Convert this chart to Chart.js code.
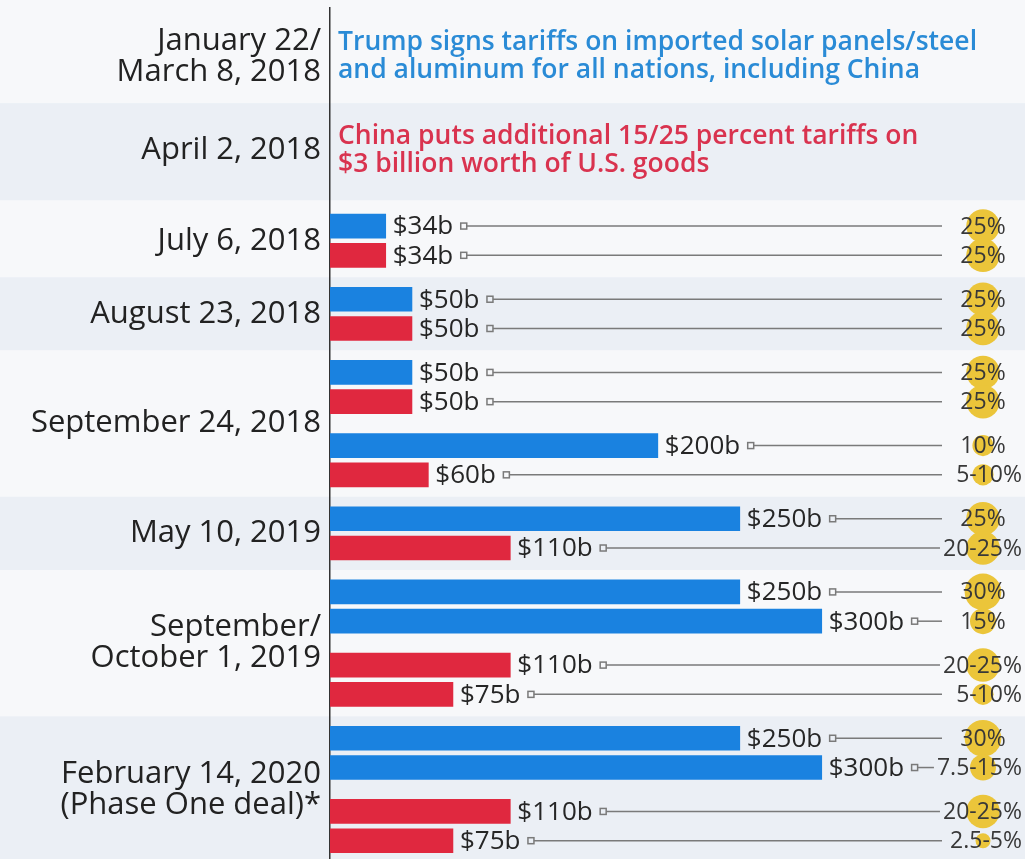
<!DOCTYPE html>
<html>
<head>
<meta charset="utf-8">
<script src="https://cdn.jsdelivr.net/npm/chart.js@4"></script>
<style>
html, body { margin: 0; padding: 0; background: #f7f8fa; }
#wrap { width: 1025px; height: 859px; position: relative; }
</style>
</head>
<body>
<div id="wrap"><canvas id="myChart"></canvas></div>
<script>
// event dates (left column)
const dateLabels = [
    ['January 22/', 'March 8, 2018'],
    ['April 2, 2018'],
    ['July 6, 2018'],
    ['August 23, 2018'],
    ['September 24, 2018'],
    ['May 10, 2019'],
    ['September/', 'October 1, 2019'],
    ['February 14, 2020', '(Phase One deal)*']
];
// text-only events
const notes = [
    ['Trump signs tariffs on imported solar panels/steel', 'and aluminum for all nations, including China'],
    ['China puts additional 15/25 percent tariffs on', '$3 billion worth of U.S. goods']
];
const noteSides = ['US', 'China'];

// one entry per bar
const barDate = [2, 2, 3, 3, 4, 4, 4, 4, 5, 5, 6, 6, 6, 6, 7, 7, 7, 7];
const barSide = ['US', 'China', 'US', 'China', 'US', 'China', 'US', 'China', 'US', 'China',
                 'US', 'US', 'China', 'China', 'US', 'US', 'China', 'China'];
const tariffBillions = [34, 34, 50, 50, 50, 50, 200, 60, 250, 110, 250, 300, 110, 75, 250, 300, 110, 75];
const tariffRates = ['25%', '25%', '25%', '25%', '25%', '25%', '10%', '5-10%', '25%', '20-25%',
                     '30%', '15%', '20-25%', '5-10%', '30%', '7.5-15%', '20-25%', '2.5-5%'];

const sideColor = { US: '#1a82e0', China: '#e0283f' };
const noteColor = { US: '#2a8bd6', China: '#d9334f' };

// bars come in pairs; pairs are spaced a bit wider than bars inside a pair
const barPos = tariffBillions.map((v, i) => Math.floor(i / 2) * 5 + (i % 2) * 2);

// tick position of each date row + band edges
const headerTicks = [-11.6, -5.2];
const headerEdges = [null, -8.4, -1.75];
const tickPos = [];
const bands = [];
dateLabels.forEach((lab, k) => {
    if (k < 2) {
        tickPos.push(headerTicks[k]);
        bands.push({ from: headerEdges[k], to: headerEdges[k + 1] });
        return;
    }
    const ys = barPos.filter((p, i) => barDate[i] === k);
    tickPos.push((ys[0] + ys[ys.length - 1]) / 2);
});
for (let k = 2; k < dateLabels.length; k++) {
    const ys = barPos.filter((p, i) => barDate[i] === k);
    const prev = barPos.filter((p, i) => barDate[i] === k - 1);
    const next = barPos.filter((p, i) => barDate[i] === k + 1);
    bands.push({
        from: prev.length ? (prev[prev.length - 1] + ys[0]) / 2 : headerEdges[2],
        to: next.length ? (ys[ys.length - 1] + next[0]) / 2 : null
    });
}

const backdrop = {
    id: 'backdrop',
    beforeDraw(chart) {
        const { ctx } = chart;
        const y = chart.scales.y;
        ctx.save();
        ctx.fillStyle = '#f7f8fa';
        ctx.fillRect(0, 0, chart.width, chart.height);
        bands.forEach((b, k) => {
            const top = b.from === null ? 0 : y.getPixelForValue(b.from);
            const bot = b.to === null ? chart.height : y.getPixelForValue(b.to);
            ctx.fillStyle = k % 2 ? '#ebeff5' : '#f7f8fa';
            ctx.fillRect(0, top, chart.width, bot - top);
        });
        ctx.restore();
    }
};

const barLabels = {
    id: 'barLabels',
    afterDatasetsDraw(chart) {
        const { ctx, chartArea } = chart;
        const y = chart.scales.y;
        const meta = chart.getDatasetMeta(0);
        const circleX = chartArea.right - 42;
        const lineStop = chartArea.right - 83;
        ctx.save();
        ctx.textBaseline = 'middle';

        // text-only events at the top
        ctx.font = '600 26.5px "Open Sans"';
        ctx.textAlign = 'left';
        notes.forEach((lines, k) => {
            const cy = y.getPixelForValue(headerTicks[k]);
            ctx.fillStyle = noteColor[noteSides[k]];
            lines.forEach((t, j) => ctx.fillText(t, chartArea.left + 8, cy + (j - (lines.length - 1) / 2) * 28));
        });

        // rate bubbles
        meta.data.forEach((bar, i) => {
            const top = Math.max(...tariffRates[i].replace('%', '').split('-').map(Number));
            ctx.beginPath();
            ctx.arc(circleX, bar.y, 3.35 * Math.sqrt(top), 0, Math.PI * 2);
            ctx.fillStyle = '#ebc53a';
            ctx.fill();
        });

        meta.data.forEach((bar, i) => {
            // value label
            ctx.font = '26px "Open Sans"';
            ctx.textAlign = 'left';
            ctx.fillStyle = '#262626';
            const txt = '$' + tariffBillions[i] + 'b';
            const tx = bar.x + 7;
            ctx.fillText(txt, tx, bar.y + 1);
            const sq = tx + ctx.measureText(txt).width + 7;

            // rate text
            ctx.font = '23px "Open Sans"';
            const rate = tariffRates[i];
            let rateLeft;
            ctx.fillStyle = '#383838';
            if (rate.includes('-')) {
                ctx.textAlign = 'right';
                ctx.fillText(rate, chartArea.right - 3, bar.y + 1);
                rateLeft = chartArea.right - 3 - ctx.measureText(rate).width;
            } else {
                ctx.textAlign = 'center';
                ctx.fillText(rate, circleX, bar.y + 1);
                rateLeft = circleX - ctx.measureText(rate).width / 2;
            }

            // connector
            ctx.strokeStyle = '#7a7a7a';
            ctx.lineWidth = 1.5;
            ctx.strokeRect(sq + 0.5, bar.y - 3, 6, 6);
            ctx.beginPath();
            ctx.moveTo(sq + 6.5, bar.y);
            ctx.lineTo(Math.min(lineStop, rateLeft - 3), bar.y);
            ctx.stroke();
        });
        ctx.restore();
    }
};

const ctx = document.getElementById('myChart').getContext('2d');
new Chart(ctx, {
    type: 'bar',
    data: {
        datasets: [{
            data: tariffBillions.map((v, i) => ({ x: v, y: barPos[i] })),
            backgroundColor: barSide.map(s => sideColor[s]),
            borderWidth: 0,
            barThickness: 24
        }]
    },
    options: {
        indexAxis: 'y',
        animation: false,
        responsive: true,
        maintainAspectRatio: false,
        layout: { padding: { top: 8, right: 0, bottom: 0, left: 0 } },
        scales: {
            x: {
                type: 'linear',
                min: 0,
                max: 424,
                display: false
            },
            y: {
                type: 'linear',
                reverse: true,
                offset: false,
                min: -14.9,
                max: 43.25,
                afterBuildTicks: scale => {
                    scale.ticks = tickPos.map(v => ({ value: v }));
                },
                afterFit: scale => {
                    scale.width = 330;
                    scale.paddingTop = 0;
                    scale.paddingBottom = 0;
                },
                ticks: {
                    autoSkip: false,
                    padding: 9,
                    color: '#222',
                    font: { family: 'Open Sans', size: 31, lineHeight: 1.0 },
                    callback: (v, i) => dateLabels[i]
                },
                grid: { display: false, drawTicks: false, offset: false },
                border: { display: true, color: '#333', width: 1.5 }
            }
        },
        plugins: {
            legend: { display: false },
            tooltip: { enabled: false }
        }
    },
    plugins: [backdrop, barLabels]
});
</script>
</body>
</html>
